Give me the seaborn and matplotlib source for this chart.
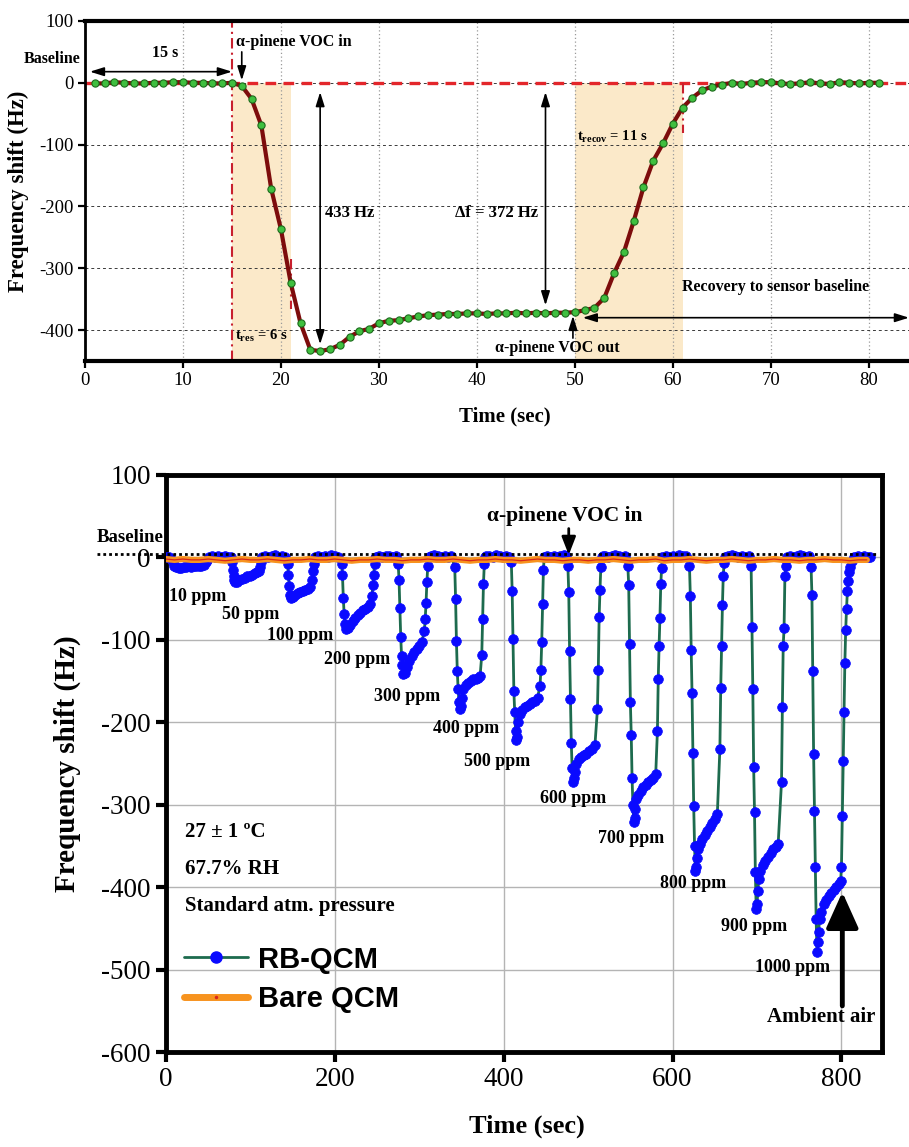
import matplotlib
matplotlib.use("Agg")
import matplotlib.pyplot as plt
from matplotlib.lines import Line2D
import pandas as pd
import seaborn as sns

# ---------------- data ----------------
# Panel (a): single alpha-pinene exposure, one reading per second
single_time = list(range(1, 82))
single_shift = [
    -1, -1, 1, 0, -1, -1, 0, 0, 1, 1, 0, 0, -1, -1, 0,
    -5, -26, -69, -171, -237, -324, -389, -432, -434, -431,
    -424, -411, -402, -398, -389, -385, -384, -381, -378, -376,
    -375, -374, -374, -373, -373, -374, -373, -373, -372, -373,
    -372, -373, -372, -372, -371, -368, -364, -348, -308, -274,
    -224, -169, -126, -98, -66, -40, -24, -12, -6, -3,
    0, -2, 0, 1, 1, -1, -2, -1, 1, -1,
    -2, 1, 0, -1, 0, 0]

t_voc_in = 15      # s, VOC switched on
t_res = 6          # s, response time
t_voc_out = 50     # s, VOC switched off
t_recov = 11       # s, recovery time
peak_shift = 433   # Hz
steady_shift = 372 # Hz

# Panel (b): RB-QCM response to stepwise concentrations
conc_labels = ["10 ppm", "50 ppm", "100 ppm", "200 ppm", "300 ppm", "400 ppm",
               "500 ppm", "600 ppm", "700 ppm", "800 ppm", "900 ppm", "1000 ppm"]

t_10 = [0, 3, 6, 8, 10, 12, 15, 18, 21, 24, 27, 30, 33, 36, 39, 42, 45, 47, 49, 51, 54, 58]
f_10 = [1, 0, -2, -6, -10, -12, -13, -13, -12, -12, -11, -12, -11, -11, -10, -10, -9, -6, -3, 1, 2, 1]

t_50 = [62, 66, 70, 74, 77, 78, 79, 80, 81, 82, 84, 87, 90, 93, 96, 99, 102, 105, 108, 110,
        111, 112, 113, 114]
f_50 = [2, 1, 2, 1, 1, -6, -15, -23, -28, -30, -30, -28, -26, -25, -23, -22, -21, -19, -18, -17,
        -12, -6, -2, 1]

t_100 = [117, 121, 125, 129, 133, 137, 141, 144, 145, 146, 147, 148, 150, 153, 156, 159, 162,
         165, 168, 171, 173, 174, 175, 176, 177]
f_100 = [2, 1, 2, 3, 1, 2, 1, -8, -21, -35, -45, -49, -48, -45, -43, -42, -41,
         -40, -38, -36, -27, -17, -8, -2, 1]

t_200 = [180, 184, 188, 192, 196, 200, 204, 208, 209, 210, 211, 212, 213, 215, 218, 221, 224,
         227, 230, 233, 236, 239, 242, 244, 245, 246, 247, 248, 249]
f_200 = [2, 1, 2, 1, 3, 2, 1, -8, -21, -49, -69, -81, -87, -86, -82, -77, -73,
         -70, -67, -64, -62, -60, -57, -47, -33, -21, -8, -1, 1]

t_300 = [252, 256, 260, 264, 268, 272, 275, 276, 277, 278, 279, 280, 281, 283, 285, 288, 291,
         294, 297, 300, 303, 306, 307, 308, 309, 310, 311]
f_300 = [2, 1, 2, 2, 1, 2, -8, -27, -61, -96, -120, -130, -142, -140, -133, -126, -120,
         -115, -111, -107, -103, -89, -75, -55, -30, -11, 1]

t_400 = [314, 318, 322, 326, 330, 334, 338, 342, 343, 344, 345, 346, 347, 348, 349, 350, 352,
         355, 358, 361, 364, 367, 370, 372, 374, 375, 376, 377, 378, 379]
f_400 = [2, 3, 2, 1, 2, 1, 2, -12, -51, -102, -138, -160, -175, -184, -180, -170, -160,
         -155, -152, -150, -148, -147, -146, -144, -118, -75, -32, -8, 0, 2]

t_500 = [383, 387, 391, 395, 399, 403, 406, 409, 410, 411, 412, 413, 414, 415, 416, 417, 419,
         422, 425, 428, 431, 434, 437, 440, 443, 444, 445, 446, 447, 448]
f_500 = [2, 1, 3, 2, 1, 2, 1, -6, -41, -99, -162, -188, -210, -222, -218, -200, -190,
         -185, -182, -180, -178, -176, -174, -170, -156, -136, -103, -57, -15, 1]

t_600 = [451, 455, 459, 463, 467, 471, 474, 476, 477, 478, 479, 480, 481, 482, 483, 484, 486,
         489, 492, 495, 498, 501, 504, 508, 511, 512, 513, 514, 515, 516, 517]
f_600 = [2, 1, 2, 1, 2, 3, 2, -11, -42, -114, -172, -225, -255, -272, -268, -260, -250,
         -245, -242, -240, -238, -235, -232, -228, -184, -136, -72, -39, -12, 0, 2]

t_700 = [520, 524, 528, 532, 536, 540, 544, 547, 548, 549, 550, 551, 552, 553, 554, 555, 556,
         557, 559, 562, 565, 568, 571, 574, 577, 580, 582, 583, 584, 585, 586, 587, 588]
f_700 = [2, 1, 2, 3, 2, 1, 2, -11, -33, -105, -176, -215, -268, -300, -321, -316, -305,
         -293, -288, -283, -279, -276, -272, -270, -267, -263, -211, -147, -107, -73, -32, -13, 1]

t_800 = [592, 596, 600, 604, 608, 612, 616, 620, 621, 622, 623, 624, 625, 626, 627, 628, 629,
         630, 632, 635, 638, 641, 644, 647, 650, 653, 656, 657, 658, 659, 660, 661, 662]
f_800 = [2, 1, 2, 1, 3, 2, 2, -11, -47, -112, -164, -237, -302, -350, -381, -376, -365,
         -354, -348, -342, -337, -332, -327, -322, -317, -311, -232, -159, -107, -58, -22, -7, 1]

t_900 = [666, 670, 674, 678, 682, 686, 690, 693, 694, 695, 696, 697, 698, 699, 700, 701, 702,
         704, 707, 710, 713, 716, 719, 722, 725, 729, 730, 731, 732, 733, 734, 735]
f_900 = [2, 3, 2, 1, 2, 1, 2, -11, -84, -160, -254, -309, -382, -427, -420, -405, -390,
         -380, -373, -368, -363, -358, -354, -351, -348, -272, -182, -107, -86, -23, -11, 1]

t_1000 = [739, 743, 747, 751, 755, 759, 762, 764, 765, 766, 767, 768, 769, 770, 771, 772, 773,
          774, 776, 779, 782, 785, 788, 791, 794, 797, 799, 800, 801, 802, 803, 804, 805, 806,
          807, 808, 809, 810, 812, 815, 819, 823, 827, 831, 834]
f_1000 = [2, 1, 2, 3, 2, 1, 2, -12, -45, -138, -238, -308, -375, -439, -479, -466, -455,
          -439, -430, -420, -415, -411, -407, -403, -400, -396, -393, -375, -314, -247, -187,
          -128, -88, -62, -41, -29, -18, -12, -4, 0, 2, 1, 2, 1, 0]

# Bare QCM, one reading every 10 s
bare_time = list(range(0, 831, 10))
bare_shift = [-2, -3, -2, -3, -3, -2, -3, -4, -3, -2,
              -3, -3, -2, -3, -4, -3, -3, -2, -3, -3,
              -2, -3, -4, -3, -3, -2, -3, -3, -4, -3,
              -3, -2, -3, -3, -2, -3, -4, -3, -3, -2,
              -3, -3, -4, -3, -2, -3, -3, -4, -3, -3,
              -4, -3, -3, -2, -3, -4, -3, -3, -2, -4,
              -3, -3, -2, -3, -4, -3, -3, -2, -3, -4,
              -3, -3, -2, -3, -3, -4, -3, -3, -2, -3,
              -3, -4, -3, -3]

# ---------------- style ----------------
sns.set_style("ticks")
plt.rcParams["font.family"] = ["Liberation Serif", "DejaVu Serif"]
plt.rcParams["axes.unicode_minus"] = False
plt.rcParams["mathtext.fontset"] = "custom"
plt.rcParams["mathtext.rm"] = "Liberation Serif"
plt.rcParams["mathtext.it"] = "Liberation Serif:italic"
plt.rcParams["mathtext.bf"] = "Liberation Serif:bold"
for key in ["text.color", "axes.labelcolor", "xtick.color", "ytick.color",
            "axes.edgecolor", "xtick.labelcolor", "ytick.labelcolor"]:
    plt.rcParams[key] = "black"

PEACH = "#fbe9c9"
RED = "#e3262b"

fig = plt.figure(figsize=(9.09, 11.47), dpi=100)

# ================= panel (a) =================
ax1 = fig.add_axes([0.0935, 0.6853, 0.9065, 0.2964])
ymin1, ymax1 = -450, 100
ax1.set_xlim(0, 84.1)
ax1.set_ylim(ymin1, ymax1)

ax1.fill_between([t_voc_in, t_voc_in + t_res], ymin1, 0, color=PEACH, lw=0, zorder=0)
ax1.fill_between([t_voc_out, t_voc_out + t_recov], ymin1, 0, color=PEACH, lw=0, zorder=0)

ax1.set_xticks(range(0, 81, 10))
ax1.set_yticks(range(-400, 101, 100))
ax1.grid(axis="x", color="#9a9a9a", ls=(0, (1, 2)), lw=0.9)
ax1.grid(axis="y", color="#3a3a3a", ls=(0, (3, 3)), lw=0.7)
ax1.set_axisbelow(True)

ax1.axhline(0, color=RED, lw=2.4, ls=(0, (3.2, 2.2)), zorder=1.5)
dashdot = (0, (5, 2, 1, 2))
ax1.axvline(t_voc_in, color="#c8202e", lw=1.5, ls=dashdot, zorder=1.6)
ax1.plot([t_voc_in + t_res] * 2, [-285, -366], color="#c8202e", lw=1.5, ls=dashdot, zorder=1.6)
ax1.plot([t_voc_out + t_recov] * 2, [0, -81], color="#c8202e", lw=1.5, ls=dashdot, zorder=1.6)

df_single = pd.DataFrame({"Time": single_time, "Shift": single_shift})
sns.lineplot(data=df_single, x="Time", y="Shift", ax=ax1, estimator=None, sort=False,
             color="#7d0c0c", linewidth=3, marker="o", markersize=5.2,
             markerfacecolor="#3fbf3f", markeredgecolor="#1c6b1c", markeredgewidth=0.8,
             zorder=3, legend=False)

for s in ["top", "bottom"]:
    ax1.spines[s].set_linewidth(3)
ax1.spines["left"].set_linewidth(2)
ax1.spines["right"].set_visible(False)
ax1.tick_params(direction="out", length=5, width=1.6, labelsize=13.5, pad=3)

ax1.set_xlabel("Time (sec)", fontsize=15, fontweight="bold")
ax1.set_ylabel("Frequency shift (Hz)", fontsize=16.5, fontweight="bold")
ax1.xaxis.set_label_coords(0.51, -0.135)
ax1.yaxis.set_label_coords(-0.068, 0.5)

bold = dict(fontweight="bold", fontsize=11.5, color="k")
ax1.text(-3.4, 39, "Baseline", ha="center", va="center", clip_on=False, **bold)
ax1.text(8.2, 48, "15 s", ha="center", va="center", **bold)
ax1.annotate("", xy=(0.5, 18), xytext=(t_voc_in, 18),
             arrowprops=dict(arrowstyle="<|-|>,head_length=0.7,head_width=0.22",
                             color="k", lw=1.2, mutation_scale=12, shrinkA=0, shrinkB=0))
ax1.text(15.4, 66, "α-pinene VOC in", ha="left", va="center", **bold)
ax1.annotate("", xy=(16, 4), xytext=(16, 50),
             arrowprops=dict(arrowstyle="-|>,head_length=0.7,head_width=0.22",
                             color="k", lw=1.2, mutation_scale=12, shrinkA=0, shrinkB=0))
ax1.annotate("", xy=(24, -15), xytext=(24, -(peak_shift - 10)),
             arrowprops=dict(arrowstyle="<|-|>,head_length=0.7,head_width=0.22",
                             color="k", lw=1.2, mutation_scale=12, shrinkA=0, shrinkB=0))
ax1.text(24.5, -211, f"{peak_shift} Hz", ha="left", va="center",
         fontweight="bold", fontsize=12)
ax1.annotate("", xy=(47, -15), xytext=(47, -(steady_shift - 12)),
             arrowprops=dict(arrowstyle="<|-|>,head_length=0.7,head_width=0.22",
                             color="k", lw=1.2, mutation_scale=12, shrinkA=0, shrinkB=0))
ax1.text(46.2, -211, f"Δf = {steady_shift} Hz", ha="right", va="center",
         fontweight="bold", fontsize=12)
ax1.text(15.3, -410, r"$\mathbf{t_{res}}$" + f" = {t_res} s", ha="left", va="center",
         fontweight="bold", fontsize=10.5)
ax1.text(50.2, -87, r"$\mathbf{t_{recov}}$" + f" = {t_recov} s", ha="left", va="center",
         fontweight="bold", fontsize=10.5)
ax1.text(60.9, -331, "Recovery to sensor baseline", ha="left", va="center", **bold)
ax1.annotate("", xy=(50.8, -380), xytext=(84.1, -380),
             arrowprops=dict(arrowstyle="<|-|>,head_length=0.7,head_width=0.22",
                             color="k", lw=1.2, mutation_scale=12, shrinkA=0, shrinkB=0),
             annotation_clip=False)
ax1.annotate("", xy=(t_voc_out - 0.2, -377), xytext=(t_voc_out - 0.2, -413),
             arrowprops=dict(arrowstyle="-|>,head_length=0.7,head_width=0.22",
                             color="k", lw=1.2, mutation_scale=12, shrinkA=0, shrinkB=0))
ax1.text(41.8, -429, "α-pinene VOC out", ha="left", va="center", **bold)

# ================= panel (b) =================
ax2 = fig.add_axes([0.1826, 0.0828, 0.7877, 0.5031])
ax2.set_xlim(0, 848)
ax2.set_ylim(-600, 100)
ax2.set_xticks(range(0, 801, 200))
ax2.set_yticks(range(-600, 101, 100))
ax2.grid(True, color="#b4b4b4", lw=1.0)
ax2.set_axisbelow(True)

pulse_times = [t_10, t_50, t_100, t_200, t_300, t_400, t_500, t_600, t_700, t_800, t_900, t_1000]
pulse_shifts = [f_10, f_50, f_100, f_200, f_300, f_400, f_500, f_600, f_700, f_800, f_900, f_1000]
df_rb = pd.DataFrame({"Time": sum(pulse_times, []), "Shift": sum(pulse_shifts, [])})
df_bare = pd.DataFrame({"Time": bare_time, "Shift": bare_shift})

GREEN = "#1d6b4e"
BLUE = "#0a0aff"
ORANGE = "#f7931e"

sns.lineplot(data=df_rb, x="Time", y="Shift", ax=ax2, estimator=None, sort=False,
             color=GREEN, linewidth=2.0, marker="o", markersize=7,
             markerfacecolor=BLUE, markeredgecolor=BLUE, markeredgewidth=0.5,
             zorder=3, legend=False)
sns.lineplot(data=df_bare, x="Time", y="Shift", ax=ax2, estimator=None, sort=False,
             color=ORANGE, linewidth=4.5, zorder=4, legend=False)
sns.lineplot(data=df_bare, x="Time", y="Shift", ax=ax2, estimator=None, sort=False,
             color="#d8251b", linewidth=0.9, zorder=4.5, legend=False)

for s in ax2.spines.values():
    s.set_linewidth(3.5)
ax2.tick_params(direction="out", length=7, width=3, labelsize=19.5, pad=4)
ax2.set_xlabel("Time (sec)", fontsize=19, fontweight="bold")
ax2.set_ylabel("Frequency shift (Hz)", fontsize=21, fontweight="bold")
ax2.xaxis.set_label_coords(0.504, -0.108)
ax2.yaxis.set_label_coords(-0.118, 0.5)

# dotted baseline reaching out to its label
ax2.plot([-82, 843], [4, 4], color="k", lw=2, ls=(0, (1, 1.1)), zorder=6, clip_on=False)
ax2.text(-42, 24, "Baseline", ha="center", va="center", fontweight="bold",
         fontsize=13.5, clip_on=False)

ax2.text(472, 50, "α-pinene VOC in", ha="center", va="center", fontweight="bold", fontsize=15.5)
ax2.annotate("", xy=(477, 3), xytext=(477, 35),
             arrowprops=dict(arrowstyle="-|>,head_length=0.9,head_width=0.35",
                             color="k", lw=2, mutation_scale=12, shrinkA=0, shrinkB=0))

label_xy = [(37, -47), (100, -69), (159, -95), (226, -124), (286, -169), (356, -208),
            (392, -247), (482, -293), (551, -341), (624, -395), (697, -448), (742, -497)]
for lab, (lx, ly) in zip(conc_labels, label_xy):
    ax2.text(lx, ly, lab, ha="center", va="center", fontweight="bold", fontsize=13)

ax2.text(776, -558, "Ambient air", ha="center", va="center", fontweight="bold", fontsize=15)
ax2.annotate("", xy=(801, -406), xytext=(801, -544),
             arrowprops=dict(arrowstyle="-|>,head_length=1.0,head_width=0.45",
                             color="k", lw=3.5, mutation_scale=22, shrinkA=0, shrinkB=0))

cond = dict(ha="left", va="center", fontweight="bold", fontsize=15)
ax2.text(22.5, -333, "27 ± 1 ºC", **cond)
ax2.text(22.5, -378, "67.7% RH", **cond)
ax2.text(22.5, -423, "Standard atm. pressure", **cond)

handles = [
    Line2D([], [], color=GREEN, lw=2.0, marker="o", ms=8, mfc=BLUE, mec=BLUE),
    Line2D([], [], color=ORANGE, lw=5, marker="o", ms=1.5, mfc="#d8251b", mec="#d8251b"),
]
ax2.legend(handles, ["RB-QCM", "Bare QCM"], loc="upper left", bbox_to_anchor=(-0.012, 0.23),
           frameon=False, handlelength=2.2, handletextpad=0.35, labelspacing=0.4,
           prop=dict(family="Liberation Sans", weight="bold", size=21))

fig.savefig("out.png", dpi=100)
